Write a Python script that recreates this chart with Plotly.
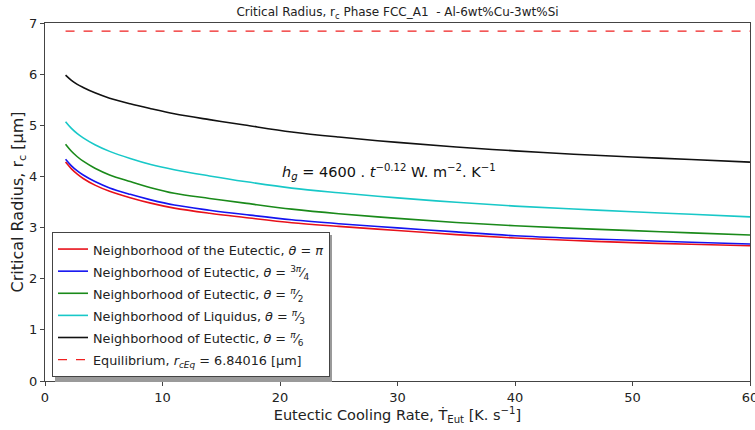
import plotly.graph_objects as go

# x positions (Eutectic cooling rate, K/s)
x_rate = [1.75, 2.25, 2.75, 3.25, 4.25, 5.5, 7.25, 9, 11, 14, 17, 21, 25, 30, 35, 40, 45, 50, 55, 60]

r_theta_pi = [4.28, 4.148, 4.045, 3.96, 3.83, 3.71, 3.585, 3.478, 3.38, 3.28, 3.198, 3.095, 3.024, 2.943, 2.863, 2.795, 2.746, 2.706, 2.674, 2.645]
r_theta_3pi4 = [4.335, 4.207, 4.108, 4.027, 3.90, 3.775, 3.65, 3.542, 3.44, 3.34, 3.255, 3.152, 3.075, 2.995, 2.915, 2.84, 2.79, 2.752, 2.713, 2.68]
r_theta_pi2 = [4.63, 4.492, 4.385, 4.298, 4.16, 4.03, 3.90, 3.78, 3.67, 3.57, 3.478, 3.36, 3.27, 3.18, 3.10, 3.035, 2.985, 2.94, 2.897, 2.855]
r_theta_pi3 = [5.07, 4.939, 4.836, 4.755, 4.62, 4.49, 4.35, 4.232, 4.13, 4.01, 3.90, 3.772, 3.68, 3.58, 3.495, 3.42, 3.362, 3.31, 3.26, 3.21]
r_theta_pi6 = [5.98, 5.878, 5.80, 5.74, 5.635, 5.53, 5.42, 5.325, 5.225, 5.11, 5.005, 4.87, 4.77, 4.665, 4.575, 4.50, 4.435, 4.38, 4.33, 4.28]
r_eq = 6.84016

FONT = "DejaVu Sans"
SPAN = '<span style="font-size:12.8px">{}</span>'
names = [
    "Neighborhood of the Eutectic, <i>θ</i> = <i>π</i>",
    "Neighborhood of Eutectic, <i>θ</i> = <sup>3<i>π</i></sup>⁄<sub>4</sub>",
    "Neighborhood of Eutectic, <i>θ</i> = <sup><i>π</i></sup>⁄<sub>2</sub>",
    "Neighborhood of Liquidus, <i>θ</i> = <sup><i>π</i></sup>⁄<sub>3</sub>",
    "Neighborhood of Eutectic, <i>θ</i> = <sup><i>π</i></sup>⁄<sub>6</sub>",
]
eq_name = "Equilibrium, <i>r<sub>cEq</sub></i> = 6.84016 [μm]"
series = [r_theta_pi, r_theta_3pi4, r_theta_pi2, r_theta_pi3, r_theta_pi6]
colors = ["#e8111a", "#1414f0", "#1a8a1a", "#18c8c8", "#111111"]

fig = go.Figure()
for nm, ys, c in zip(names, series, colors):
    fig.add_trace(go.Scatter(x=x_rate, y=ys, mode="lines", name=SPAN.format(nm),
                             line=dict(color=c, width=1.6, shape="spline", smoothing=1)))
fig.add_trace(go.Scatter(x=[x_rate[0], x_rate[-1]], y=[r_eq, r_eq], mode="lines",
                         name=SPAN.format(eq_name),
                         line=dict(color="#f02020", width=1.4, dash="dash")))

fig.add_annotation(x=20, y=4.09, xref="x", yref="y", xanchor="left", yanchor="middle",
                   showarrow=False,
                   text="<i>h<sub>g</sub></i> = 4600 . <i>t</i><sup>−0.12</sup> W. m<sup>−2</sup>. K<sup>−1</sup>",
                   font=dict(family=FONT, size=14.5, color="#111"))

# subtle legend shadow (legend box drawn on top of it)
fig.add_shape(type="rect", xref="paper", yref="paper",
              x0=(55 - 45) / 705, x1=(332 - 45) / 705,
              y0=(381 - 382) / 358, y1=(381 - 235) / 358,
              fillcolor="#9a9a9a", line=dict(width=0), layer="above")

axis_common = dict(showline=True, linecolor="#444", linewidth=1, mirror=True,
                   ticks="outside", ticklen=4, tickcolor="#444", showgrid=False,
                   zeroline=False, automargin=False,
                   tickfont=dict(family=FONT, size=13, color="#222"))

fig.update_layout(
    width=755, height=430,
    margin=dict(l=45, r=5, t=23, b=49),
    paper_bgcolor="white", plot_bgcolor="white",
    title=dict(text="Critical Radius, r<sub>c</sub> Phase FCC_A1  - Al-6wt%Cu-3wt%Si",
               x=(45 + 750) / 2 / 755, xanchor="center", y=1 - 12 / 430, yanchor="middle",
               font=dict(family=FONT, size=12, color="#222")),
    xaxis=dict(range=[0, 60], tickvals=[0, 10, 20, 30, 40, 50, 60],
               ticklabeloverflow="allow",
               title=dict(text="Eutectic Cooling Rate, Ṫ<sub>Eut</sub> [K. s<sup>−1</sup>]",
                          font=dict(family=FONT, size=14.5, color="#222"), standoff=4),
               **axis_common),
    yaxis=dict(range=[0, 7], tickvals=list(range(8)),
               title=dict(text="Critical Radius, r<sub>c</sub> [μm]",
                          font=dict(family=FONT, size=16, color="#222"), standoff=0),
               **axis_common),
    legend=dict(x=(52 - 45) / 705, y=(381 - 232) / 358, xanchor="left", yanchor="top",
                bgcolor="white", bordercolor="#444", borderwidth=1,
                font=dict(family=FONT, size=14.7, color="#222"),
                tracegroupgap=0, itemwidth=30),
    showlegend=True,
)

fig.write_html("out.html")
